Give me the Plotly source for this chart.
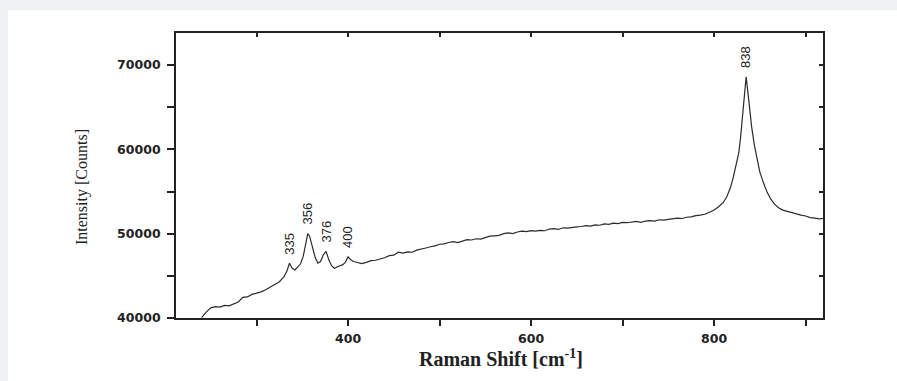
import plotly.graph_objects as go

# Raman spectrum
raman_shift = [240, 245, 250, 255, 260, 265, 270, 275, 280, 285, 290, 295, 300, 305, 310, 315,
               320, 325, 330, 333, 336, 339, 342, 345, 348, 351, 354, 356, 358, 361, 364, 367,
               370, 373, 376, 379, 382, 385, 388, 391, 394, 397, 400, 403, 406, 410, 415, 420,
               425, 430, 435, 440, 445, 450, 455, 460, 465, 470, 475, 480, 485, 490, 495, 500,
               505, 510, 515, 520, 525, 530, 535, 540, 545, 550, 555, 560, 565, 570, 575, 580,
               585, 590, 595, 600, 605, 610, 615, 620, 625, 630, 635, 640, 645, 650, 655, 660,
               665, 670, 675, 680, 685, 690, 695, 700, 705, 710, 715, 720, 725, 730, 735, 740,
               745, 750, 755, 760, 765, 770, 775, 780, 785, 790, 795, 800, 805, 810, 814, 818,
               821, 824, 827, 829, 831, 833, 835, 837, 839, 841, 844, 847, 850, 854, 858, 862,
               866, 870, 875, 880, 885, 890, 895, 900, 905, 910, 915, 919]
intensity = [40050, 40700, 41200, 41350, 41300, 41500, 41450, 41700, 41900, 42450, 42500, 42800,
             42950, 43100, 43350, 43700, 44000, 44300, 44900, 45500, 46500, 45900, 45700, 46000,
             46400, 47300, 49000, 50000, 49700, 48300, 47200, 46500, 46700, 47500, 47900, 46900,
             46200, 45900, 46100, 46200, 46300, 46600, 47250, 46900, 46700, 46600, 46450, 46600,
             46800, 46850, 47000, 47150, 47400, 47450, 47800, 47700, 47850, 47800, 48050, 48150,
             48300, 48450, 48550, 48750, 48800, 48950, 49050, 48950, 49150, 49300, 49250, 49400,
             49350, 49550, 49700, 49750, 49800, 50000, 50100, 50000, 50200, 50300, 50250, 50350,
             50300, 50400, 50350, 50550, 50600, 50500, 50700, 50650, 50750, 50800, 50850, 50950,
             50900, 51050, 51000, 51150, 51100, 51250, 51200, 51350, 51300, 51400, 51450, 51350,
             51500, 51550, 51500, 51650, 51600, 51700, 51750, 51850, 51800, 51950, 52000, 52150,
             52200, 52300, 52550, 52800, 53200, 53700, 54400, 55500, 56700, 58000, 59600, 61500,
             64000, 66700, 68600, 66700, 64500, 62700, 60500, 58700, 57300, 56000, 54900, 54100,
             53500, 53100, 52800, 52650, 52500, 52300, 52200, 52100, 51900, 51850, 51750, 51800]

peak_labels = ["335", "356", "376", "400", "838"]
peak_positions = [336, 356, 376, 400, 835]

x_major_ticks = [400, 600, 800]
x_minor_ticks = [300, 500, 700, 900]
x_all_ticks = [300, 400, 500, 600, 700, 800, 900]
y_major_ticks = [40000, 50000, 60000, 70000]
y_minor_ticks = [45000, 55000, 65000]
y_all_ticks = [40000, 45000, 50000, 55000, 60000, 65000, 70000]

x_range = [212, 919]
y_range = [40000, 73800]

fig = go.Figure()
fig.add_trace(go.Scatter(x=raman_shift, y=intensity, mode="lines",
                         line=dict(color="#2b2b2b", width=1.2), showlegend=False,
                         hoverinfo="skip"))
# invisible copy so the mirrored (top/right) axes are drawn
fig.add_trace(go.Scatter(x=raman_shift, y=intensity, mode="lines", xaxis="x2", yaxis="y2",
                         line=dict(color="rgba(0,0,0,0)", width=0), showlegend=False,
                         hoverinfo="skip"))

tickfont = dict(family="DejaVu Sans", size=12.5, color="#222222", weight="bold")

fig.update_layout(
    width=897, height=381,
    margin=dict(l=176, r=74, t=33, b=63),
    paper_bgcolor="#eef0f3",
    plot_bgcolor="white",
    showlegend=False,
    xaxis=dict(range=x_range, tickmode="array", tickvals=x_major_ticks, tickformat="d",
               ticks="outside", ticklen=6, tickwidth=1.5, tickcolor="#222",
               minor=dict(tickmode="array", tickvals=x_minor_ticks, ticks="outside",
                          ticklen=6, tickwidth=1.5, tickcolor="#222", showgrid=False),
               showline=True, linecolor="#222", linewidth=1.8, showgrid=False, zeroline=False,
               tickfont=tickfont, ticklabelstandoff=2),
    yaxis=dict(range=y_range, tickmode="array", tickvals=y_major_ticks, tickformat="d",
               ticks="outside", ticklen=7, tickwidth=1.5, tickcolor="#222",
               minor=dict(tickmode="array", tickvals=y_minor_ticks, ticks="outside",
                          ticklen=7, tickwidth=1.5, tickcolor="#222", showgrid=False),
               showline=True, linecolor="#222", linewidth=1.8, showgrid=False, zeroline=False,
               tickfont=tickfont, ticklabelstandoff=4),
    xaxis2=dict(range=x_range, overlaying="x", side="top", anchor="y2", tickmode="array",
                tickvals=x_all_ticks, ticks="inside", ticklen=4, tickwidth=1.5, tickcolor="#222",
                showticklabels=False, showline=True, linecolor="#222", linewidth=1.8,
                showgrid=False, zeroline=False),
    yaxis2=dict(range=y_range, overlaying="y", side="right", anchor="x2", tickmode="array",
                tickvals=y_all_ticks, ticks="inside", ticklen=4, tickwidth=1.5, tickcolor="#222",
                showticklabels=False, showline=True, linecolor="#222", linewidth=1.8,
                showgrid=False, zeroline=False),
)

# white page panel
fig.add_shape(type="rect", xref="paper", yref="paper",
              x0=(8 - 176) / 647, x1=1.2,
              y0=-0.3, y1=(318 - 10) / 285,
              fillcolor="white", line=dict(width=0), layer="below")

# peak labels
for lab, px in zip(peak_labels, peak_positions):
    i = min(range(len(raman_shift)), key=lambda k: abs(raman_shift[k] - px))
    fig.add_annotation(x=raman_shift[i], y=intensity[i], text=lab, textangle=-90,
                       showarrow=False, xanchor="center", yanchor="bottom", yshift=7,
                       font=dict(family="Liberation Sans", size=13, color="#222"))

# axis titles
fig.add_annotation(xref="paper", yref="paper", x=(501 - 176) / 647, y=(318 - 358) / 285,
                   text="Raman Shift [cm<sup>-1</sup>]", showarrow=False,
                   xanchor="center", yanchor="middle",
                   font=dict(family="Liberation Serif", size=20, color="#222", weight="bold"))
fig.add_annotation(xref="paper", yref="paper", x=(82 - 176) / 647, y=(318 - 187) / 285,
                   text="Intensity [Counts]", showarrow=False, textangle=-90,
                   xanchor="center", yanchor="middle",
                   font=dict(family="Liberation Serif", size=16, color="#222"))

fig.write_html("out.html",
               config={"displayModeBar": False},
               post_script="document.body.style.margin='0';"
                           "document.body.style.background='#eef0f3';")
